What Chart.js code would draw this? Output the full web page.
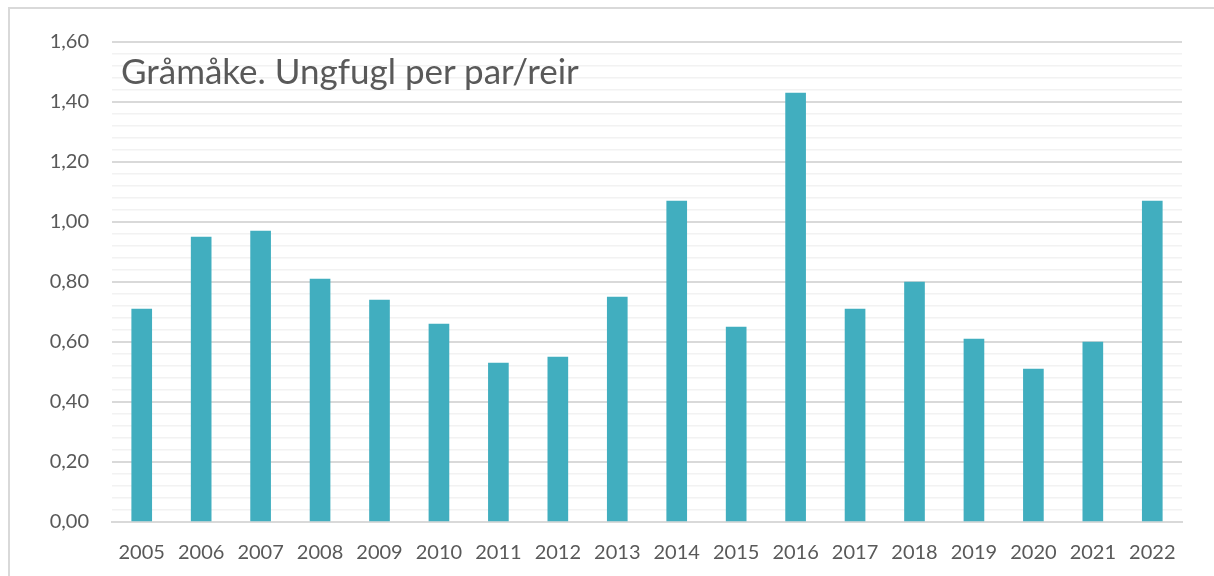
<!DOCTYPE html>
<html>
<head>
<meta charset="utf-8">
<script src="https://cdn.jsdelivr.net/npm/chart.js@4/dist/chart.umd.min.js"></script>
<style>
  html, body { margin: 0; padding: 0; background: #fff; }
  #wrap { position: relative; width: 1214px; height: 576px; overflow: hidden; }
  #frame { position: absolute; left: 8px; top: 7px; width: 1300px; height: 700px;
           border-left: 2px solid #d9d9d9; border-top: 2px solid #d9d9d9; }
  #title { position: absolute; left: 121px; top: 49px; font-family: Lato, "Open Sans", sans-serif;
           font-size: 35px; color: #595959; white-space: nowrap; }
  canvas { position: absolute; left: 0; top: 0; }
</style>
</head>
<body>
<div id="wrap">
  <div id="frame"></div>
  <canvas id="chart" width="1214" height="576"></canvas>
  <div id="title">Gråmåke. Ungfugl per par/reir</div>
</div>
<script>
// years and chicks per pair/nest
const years = ['2005', '2006', '2007', '2008', '2009', '2010', '2011', '2012', '2013',
               '2014', '2015', '2016', '2017', '2018', '2019', '2020', '2021', '2022'];
const chicksPerPair = [0.71, 0.95, 0.97, 0.81, 0.74, 0.66, 0.53, 0.55, 0.75,
                       1.07, 0.65, 1.43, 0.71, 0.80, 0.61, 0.51, 0.60, 1.07];

const yMin = 0;
const yMax = 1.6;
const minorStep = 0.04;

function isMajor(v) {
  return Math.abs(v / 0.2 - Math.round(v / 0.2)) < 1e-6;
}

const ctx = document.getElementById('chart').getContext('2d');
new Chart(ctx, {
  type: 'bar',
  data: {
    labels: years,
    datasets: [{
      data: chicksPerPair,
      backgroundColor: '#41aebf',
      borderWidth: 0,
      barThickness: 20
    }]
  },
  options: {
    responsive: false,
    animation: false,
    layout: { padding: { top: 42, right: 32, bottom: 0, left: 0 } },
    plugins: {
      legend: { display: false },
      tooltip: { enabled: false }
    },
    scales: {
      x: {
        grid: { display: false },
        border: { display: true, color: '#d9d9d9', width: 2 },
        ticks: {
          color: '#595959',
          font: { family: 'Lato', size: 20 },
          padding: 11,
          maxRotation: 0
        },
        afterFit: scale => { scale.height = 54; }
      },
      y: {
        min: yMin,
        max: yMax,
        border: { display: false },
        grid: {
          drawTicks: false,
          color: c => isMajor(c.tick.value) ? '#d9d9d9' : '#f2f2f2',
          lineWidth: c => isMajor(c.tick.value) ? 2 : 1.5
        },
        ticks: {
          stepSize: minorStep,
          autoSkip: false,
          color: '#595959',
          font: { family: 'Lato', size: 20 },
          padding: 23,
          callback: v => isMajor(v) ? v.toFixed(2).replace('.', ',') : ''
        },
        afterFit: scale => { scale.width = 112; }
      }
    }
  }
});
</script>
</body>
</html>
